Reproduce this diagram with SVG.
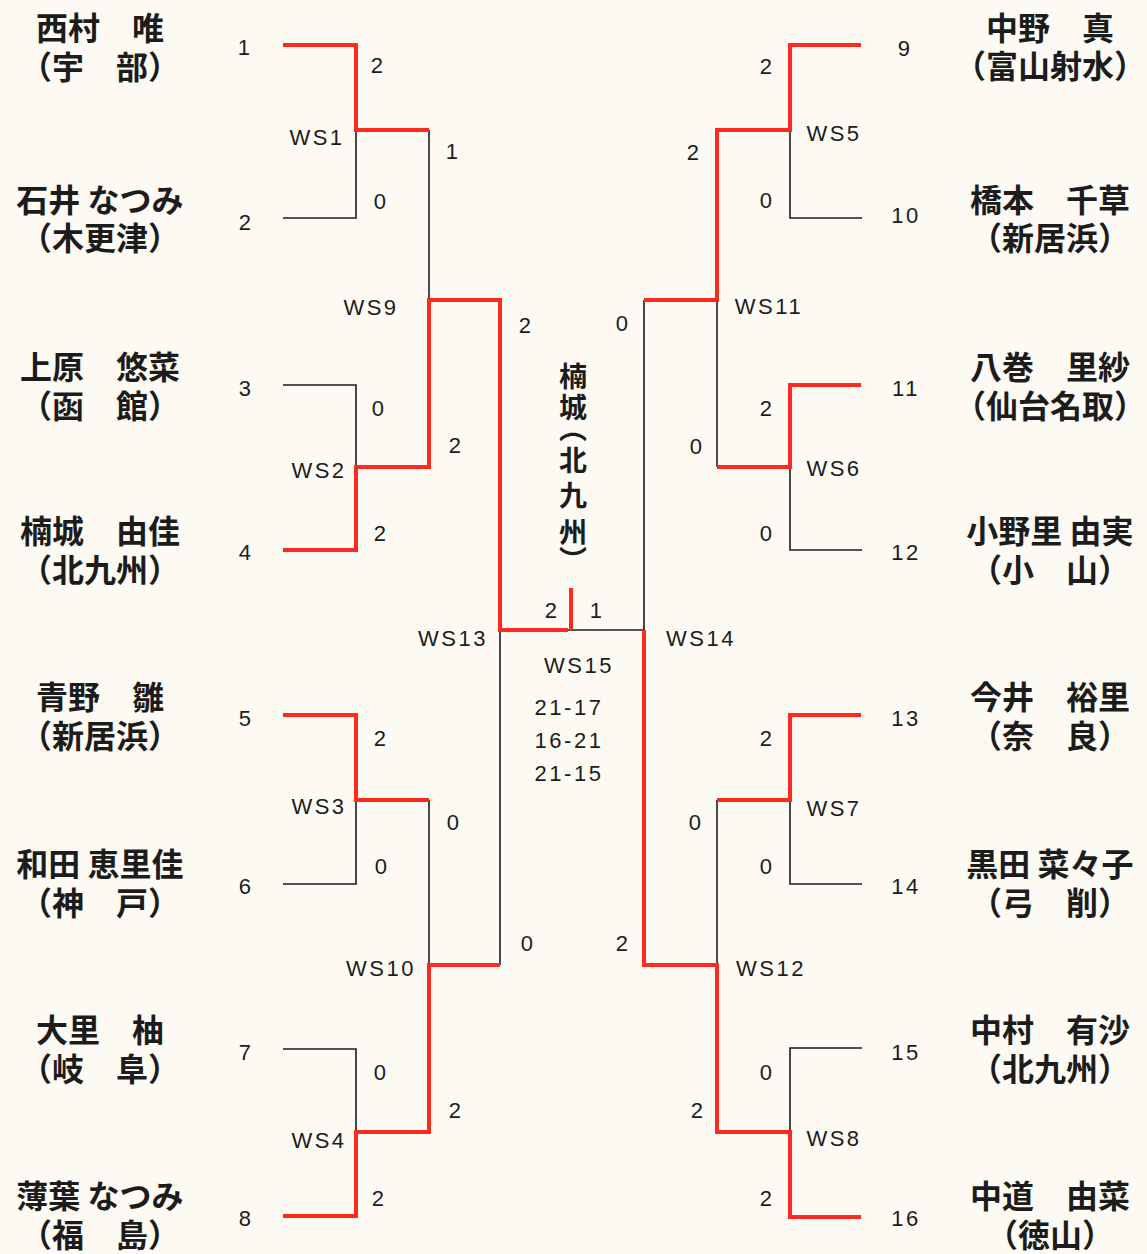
<svg xmlns="http://www.w3.org/2000/svg" width="1147" height="1254" viewBox="0 0 1147 1254">
<style>
.bg{fill:#fcfaf3}
.nm{font-family:"Noto Sans CJK JP","Noto Sans CJK SC",sans-serif;font-size:32px;font-weight:bold;fill:#1c1c1c;text-anchor:middle}
.sd{font-family:"Liberation Sans",Arial,sans-serif;font-size:22px;letter-spacing:2.5px;fill:#1c1c1c;text-anchor:middle}
.vt{font-family:"Noto Sans CJK JP","Noto Sans CJK SC",sans-serif;font-size:28px;font-weight:bold;fill:#1c1c1c;writing-mode:vertical-rl}
.r{fill:none;stroke:#ff2a1e;stroke-width:4;stroke-linejoin:miter}
.k{fill:none;stroke:#1c1c1c;stroke-width:1.6}
</style>
<rect class="bg" x="0" y="0" width="1147" height="1254"/>

<g id="connectors">
  <path class="k" d="M283,218 H356 V130"/>
  <path class="k" d="M429,130 V300"/>
  <path class="k" d="M283,385 H356 V467"/>
  <path class="k" d="M283,884 H356 V800"/>
  <path class="k" d="M429,800 V965"/>
  <path class="k" d="M283,1049 H356 V1132"/>
  <path class="k" d="M500,630 V965"/>
  <path class="k" d="M568,630 H644"/>
  <path class="k" d="M862,218 H790 V130"/>
  <path class="k" d="M717,300 V467"/>
  <path class="k" d="M862,550 H790 V467"/>
  <path class="k" d="M644,300 V630"/>
  <path class="k" d="M862,884 H790 V800"/>
  <path class="k" d="M717,800 V965"/>
  <path class="k" d="M862,1048 H790 V1132"/>

  <path class="r" d="M283,45 H356 V130 H429"/>
  <path class="r" d="M283,550 H356 V467 H429 V300 H500 V630 H568"/>
  <path class="r" d="M571,588 V630"/>
  <path class="r" d="M283,715 H356 V800 H429"/>
  <path class="r" d="M283,1216 H356 V1132 H429 V965 H500"/>
  <path class="r" d="M861,45 H790 V130 H717 V300 H644"/>
  <path class="r" d="M861,385 H790 V467 H717"/>
  <path class="r" d="M861,715 H790 V800 H717"/>
  <path class="r" d="M861,1217 H790 V1132 H717 V965 H644 V630"/>
</g>

<g id="player-1"><text class="nm" x="100" y="40">西村　唯</text><text class="nm" x="100" y="79">（宇　部）</text><text class="sd" x="245" y="55">1</text></g>
<g id="player-2"><text class="nm" x="100" y="212">石井 なつみ</text><text class="nm" x="100" y="250">（木更津）</text><text class="sd" x="246" y="230">2</text></g>
<g id="player-3"><text class="nm" x="100" y="379">上原　悠菜</text><text class="nm" x="100" y="418">（函　館）</text><text class="sd" x="246" y="396">3</text></g>
<g id="player-4"><text class="nm" x="100" y="543">楠城　由佳</text><text class="nm" x="100" y="582">（北九州）</text><text class="sd" x="246" y="560">4</text></g>
<g id="player-5"><text class="nm" x="100" y="709">青野　雛</text><text class="nm" x="100" y="748">（新居浜）</text><text class="sd" x="246" y="726">5</text></g>
<g id="player-6"><text class="nm" x="100" y="876">和田 恵里佳</text><text class="nm" x="100" y="915">（神　戸）</text><text class="sd" x="246" y="894">6</text></g>
<g id="player-7"><text class="nm" x="100" y="1042">大里　柚</text><text class="nm" x="100" y="1081">（岐　阜）</text><text class="sd" x="246" y="1060">7</text></g>
<g id="player-8"><text class="nm" x="100" y="1208">薄葉 なつみ</text><text class="nm" x="100" y="1247">（福　島）</text><text class="sd" x="246" y="1226">8</text></g>

<g id="player-9"><text class="nm" x="1050" y="40">中野　真</text><text class="nm" x="1050" y="78">（富山射水）</text><text class="sd" x="905" y="56">9</text></g>
<g id="player-10"><text class="nm" x="1050" y="212">橋本　千草</text><text class="nm" x="1050" y="250">（新居浜）</text><text class="sd" x="906" y="223">10</text></g>
<g id="player-11"><text class="nm" x="1050" y="379">八巻　里紗</text><text class="nm" x="1050" y="418">（仙台名取）</text><text class="sd" x="906" y="396">11</text></g>
<g id="player-12"><text class="nm" x="1050" y="543">小野里 由実</text><text class="nm" x="1050" y="582">（小　山）</text><text class="sd" x="906" y="560">12</text></g>
<g id="player-13"><text class="nm" x="1050" y="709">今井　裕里</text><text class="nm" x="1050" y="748">（奈　良）</text><text class="sd" x="906" y="726">13</text></g>
<g id="player-14"><text class="nm" x="1050" y="876">黒田 菜々子</text><text class="nm" x="1050" y="915">（弓　削）</text><text class="sd" x="906" y="894">14</text></g>
<g id="player-15"><text class="nm" x="1050" y="1042">中村　有沙</text><text class="nm" x="1050" y="1081">（北九州）</text><text class="sd" x="906" y="1060">15</text></g>
<g id="player-16"><text class="nm" x="1050" y="1208">中道　由菜</text><text class="nm" x="1050" y="1247">（徳山）</text><text class="sd" x="906" y="1226">16</text></g>

<g id="WS1"><text class="sd" x="317" y="145">WS1</text><text class="sd" x="378" y="73">2</text><text class="sd" x="381" y="209">0</text></g>
<g id="WS2"><text class="sd" x="319" y="478">WS2</text><text class="sd" x="379" y="416">0</text><text class="sd" x="381" y="541">2</text></g>
<g id="WS3"><text class="sd" x="319" y="814">WS3</text><text class="sd" x="381" y="746">2</text><text class="sd" x="382" y="874">0</text></g>
<g id="WS4"><text class="sd" x="319" y="1148">WS4</text><text class="sd" x="381" y="1080">0</text><text class="sd" x="379" y="1206">2</text></g>
<g id="WS5"><text class="sd" x="834" y="141">WS5</text><text class="sd" x="767" y="74">2</text><text class="sd" x="767" y="208">0</text></g>
<g id="WS6"><text class="sd" x="834" y="476">WS6</text><text class="sd" x="767" y="416">2</text><text class="sd" x="767" y="541">0</text></g>
<g id="WS7"><text class="sd" x="834" y="816">WS7</text><text class="sd" x="767" y="746">2</text><text class="sd" x="767" y="874">0</text></g>
<g id="WS8"><text class="sd" x="834" y="1146">WS8</text><text class="sd" x="767" y="1080">0</text><text class="sd" x="767" y="1206">2</text></g>
<g id="WS9"><text class="sd" x="371" y="315">WS9</text><text class="sd" x="453" y="159">1</text><text class="sd" x="456" y="453">2</text></g>
<g id="WS10"><text class="sd" x="381" y="976">WS10</text><text class="sd" x="454" y="830">0</text><text class="sd" x="456" y="1118">2</text></g>
<g id="WS11"><text class="sd" x="769" y="314">WS11</text><text class="sd" x="694" y="160">2</text><text class="sd" x="697" y="454">0</text></g>
<g id="WS12"><text class="sd" x="771" y="976">WS12</text><text class="sd" x="696" y="830">0</text><text class="sd" x="698" y="1118">2</text></g>
<g id="WS13"><text class="sd" x="453" y="646">WS13</text><text class="sd" x="526" y="333">2</text><text class="sd" x="528" y="951">0</text></g>
<g id="WS14"><text class="sd" x="701" y="646">WS14</text><text class="sd" x="623" y="331">0</text><text class="sd" x="623" y="951">2</text></g>
<g id="WS15"><text class="sd" x="579" y="673">WS15</text><text class="sd" x="552" y="618">2</text><text class="sd" x="597" y="618">1</text>
  <text class="sd" x="569" y="715">21-17</text><text class="sd" x="569" y="748">16-21</text><text class="sd" x="569" y="781">21-15</text></g>
<g id="champion"><text class="vt" x="573" y="362 393 414 446 481 518 546">楠城（北九州）</text></g>
</svg>
